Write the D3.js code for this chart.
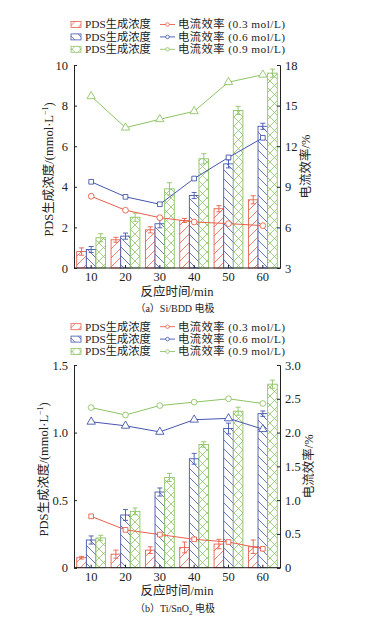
<!DOCTYPE html>
<html lang="zh">
<head>
  <meta charset="UTF-8">
  <title>PDS生成浓度与电流效率</title>
  <style>
    body { margin: 0; background: #fff; }
    svg { display: block; }
    text { font-family: "Liberation Serif", "Times New Roman", "Noto Sans CJK SC", serif; fill: #222; }
  </style>
</head>
<body>
  <svg width="367" height="618"></svg>
  <script src="https://d3js.org/d3.v7.min.js"></script>
  <script>
    // 反应时间 (min)
    const times = [10, 20, 30, 40, 50, 60];
    const concLabels = ["0.3 mol/L", "0.6 mol/L", "0.9 mol/L"];
    const colors = ["#e8604c", "#4556ad", "#8dc465"];

    // (a) Si/BDD: PDS生成浓度 mmol/L
    const bddConc03 = [0.81, 1.39, 1.88, 2.34, 2.92, 3.36];
    const bddConc06 = [0.91, 1.57, 2.18, 3.57, 5.13, 6.98];
    const bddConc09 = [1.49, 2.50, 3.90, 5.38, 7.76, 9.60];
    const bddErr03 = [0.18, 0.12, 0.15, 0.10, 0.15, 0.20];
    const bddErr06 = [0.15, 0.15, 0.20, 0.15, 0.20, 0.15];
    const bddErr09 = [0.20, 0.20, 0.30, 0.25, 0.20, 0.20];
    // (a) 电流效率 %
    const bddEff03 = [8.30, 7.27, 6.72, 6.40, 6.28, 6.13];
    const bddEff06 = [9.37, 8.26, 7.71, 9.61, 11.17, 12.62];
    const bddEff09 = [15.69, 13.37, 13.99, 14.58, 16.73, 17.28];

    // (b) Ti/SnO2
    const snConc03 = [0.074, 0.100, 0.130, 0.150, 0.175, 0.155];
    const snConc06 = [0.205, 0.390, 0.560, 0.806, 1.030, 1.140];
    const snConc09 = [0.220, 0.417, 0.668, 0.912, 1.158, 1.358];
    const snErr03 = [0.010, 0.030, 0.025, 0.040, 0.035, 0.050];
    const snErr06 = [0.030, 0.040, 0.030, 0.040, 0.040, 0.020];
    const snErr09 = [0.020, 0.025, 0.030, 0.020, 0.030, 0.030];
    const snEff03 = [0.76, 0.56, 0.49, 0.42, 0.38, 0.28];
    const snEff06 = [2.16, 2.10, 2.01, 2.19, 2.21, 2.05];
    const snEff09 = [2.37, 2.26, 2.40, 2.45, 2.50, 2.43];

    const leftTicksA = [0, 2, 4, 6, 8, 10];
    const rightTicksA = [3, 6, 9, 12, 15, 18];
    const leftTicksB = [0, 0.5, 1.0, 1.5];
    const rightTicksB = [0, 0.5, 1.0, 1.5, 2.0, 2.5, 3.0];

    const svg = d3.select("svg");
    const defs = svg.append("defs");

    // 斜线 / 反斜线 / 交叉网格 填充
    const hatch = [
      "M-2,2 l4,-4 M0,9 l9,-9 M7,11 l4,-4",
      "M-2,7 l4,4 M0,0 l9,9 M7,-2 l4,4",
      "M-2,2 l4,-4 M0,9 l9,-9 M7,11 l4,-4 M-2,7 l4,4 M0,0 l9,9 M7,-2 l4,4"
    ];
    colors.forEach((c, i) => {
      const p = defs.append("pattern")
        .attr("id", "pat" + i)
        .attr("patternUnits", "userSpaceOnUse")
        .attr("width", 9).attr("height", 9);
      p.append("rect").attr("width", 9).attr("height", 9).attr("fill", "#fff");
      p.append("path").attr("d", hatch[i])
        .attr("stroke", c).attr("stroke-width", 0.8).attr("fill", "none");
    });

    const markerPath = {
      circle: d3.symbol(d3.symbolCircle, 26)(),
      square: d3.symbol(d3.symbolSquare, 22)(),
      triangle: d3.symbol(d3.symbolTriangle, 30)()
    };

    function drawPanel(cfg) {
      const left = 74, right = 280;
      const g = svg.append("g");

      const x = d3.scaleBand().domain(times).range([left, right]).padding(0);
      const xs = d3.scaleBand().domain([0, 1, 2])
        .range([0, x.bandwidth() * 0.84]);
      const off = x.bandwidth() * 0.08;
      const yL = d3.scaleLinear().domain(cfg.leftDomain).range([cfg.bottom, cfg.top]);
      const yR = d3.scaleLinear().domain(cfg.rightDomain).range([cfg.bottom, cfg.top]);

      // 柱
      cfg.conc.forEach((vals, s) => {
        const bars = g.append("g");
        bars.selectAll("rect").data(vals).join("rect")
          .attr("x", (d, i) => x(times[i]) + off + xs(s))
          .attr("y", d => yL(d))
          .attr("width", xs.bandwidth())
          .attr("height", d => yL(0) - yL(d))
          .attr("fill", "url(#pat" + s + ")")
          .attr("stroke", colors[s]).attr("stroke-width", 0.9);

        // 误差线
        const eb = bars.selectAll("g.eb").data(vals).join("g")
          .attr("stroke", colors[s]).attr("stroke-width", 0.9);
        eb.each(function (d, i) {
          const cx = x(times[i]) + off + xs(s) + xs.bandwidth() / 2;
          const e = cfg.err[s][i];
          const el = d3.select(this);
          el.append("line").attr("x1", cx).attr("x2", cx).attr("y1", yL(d - e)).attr("y2", yL(d + e));
          el.append("line").attr("x1", cx - 2.5).attr("x2", cx + 2.5).attr("y1", yL(d + e)).attr("y2", yL(d + e));
          el.append("line").attr("x1", cx - 2.5).attr("x2", cx + 2.5).attr("y1", yL(d - e)).attr("y2", yL(d - e));
        });
      });

      // 坐标轴
      const axL = g.append("g").attr("transform", `translate(${left},0)`)
        .call(d3.axisRight(yL).tickValues(cfg.leftTicks).tickSize(3).tickFormat(cfg.leftFmt));
      axL.selectAll("text").attr("x", -6).attr("text-anchor", "end");
      const axR = g.append("g").attr("transform", `translate(${right},0)`)
        .call(d3.axisLeft(yR).tickValues(cfg.rightTicks).tickSize(3).tickFormat(cfg.rightFmt));
      axR.selectAll("text").attr("x", 5).attr("text-anchor", "start");
      const axB = g.append("g").attr("transform", `translate(0,${cfg.bottom})`)
        .call(d3.axisTop(x).tickSize(3).tickSizeOuter(0));
      axB.selectAll("text").attr("y", 8.5).attr("dy", "0.35em");
      [axL, axR, axB].forEach(a => {
        a.select(".domain").attr("stroke", "#222").attr("stroke-width", 1);
        a.selectAll("line").attr("stroke", "#222");
        a.selectAll("text").attr("font-size", 12.5).attr("fill", "#222")
          .attr("font-family", "'Liberation Serif', serif");
      });
      axB.select(".domain").attr("d", `M${left},0H${right}`);

      // 折线
      const line = d3.line().x((d, i) => x(times[i]) + x.bandwidth() / 2).y(d => yR(d));
      cfg.eff.forEach((vals, s) => {
        g.append("path").datum(vals).attr("d", line)
          .attr("fill", "none").attr("stroke", colors[s]).attr("stroke-width", 1);
        g.append("g").selectAll("path").data(vals).join("path")
          .attr("d", markerPath[cfg.markers[s]])
          .attr("transform", (d, i) => `translate(${x(times[i]) + x.bandwidth() / 2},${yR(d)})`)
          .attr("fill", "#fff").attr("stroke", colors[s]).attr("stroke-width", 0.9);
      });

      // 轴标题
      const lt = g.append("text")
        .attr("transform", `translate(${cfg.leftTitleX},${(cfg.top + cfg.bottom) / 2 + 3}) rotate(-90)`)
        .attr("text-anchor", "middle").attr("font-size", 12.5);
      lt.append("tspan").text("PDS生成浓度/(mmol·L");
      lt.append("tspan").attr("font-size", 8).attr("dy", -5).text("−1");
      lt.append("tspan").attr("dy", 5).text(")");

      g.append("text")
        .attr("transform", `translate(${cfg.rightTitleX},${(cfg.top + cfg.bottom) / 2}) rotate(-90)`)
        .attr("text-anchor", "middle").attr("font-size", 12.5)
        .text("电流效率/%");

      g.append("text").attr("x", 177).attr("y", cfg.bottom + 27.5)
        .attr("text-anchor", "middle").attr("font-size", 12.5)
        .text("反应时间/min");

      const cap = g.append("text").attr("x", 175).attr("y", cfg.bottom + 44)
        .attr("text-anchor", "middle").attr("font-size", 10)
        .attr("font-family", "'Noto Sans CJK SC', sans-serif");
      cfg.caption(cap);

      // 图例
      const lg = g.append("g").attr("transform", `translate(0,${cfg.legendY})`);
      colors.forEach((c, s) => {
        const row = lg.append("g").attr("transform", `translate(0,${s * 12.4})`);
        row.append("rect").attr("x", 71).attr("y", -3).attr("width", 10).attr("height", 6)
          .attr("fill", "url(#pat" + s + ")").attr("stroke", c).attr("stroke-width", 0.8);
        row.append("text").attr("x", 85).attr("y", 0).attr("dy", "0.35em")
          .attr("font-size", 11.3).text("PDS生成浓度");
        row.append("line").attr("x1", 160).attr("x2", 175).attr("y1", 0).attr("y2", 0)
          .attr("stroke", c).attr("stroke-width", 0.9);
        row.append("path").attr("d", d3.symbol(d3.symbolCircle, 10)())
          .attr("transform", "translate(167.5,0)")
          .attr("fill", "#fff").attr("stroke", c).attr("stroke-width", 0.8);
        row.append("text").attr("x", 178).attr("y", 0).attr("dy", "0.35em")
          .attr("font-size", 11.3).attr("textLength", 107).attr("lengthAdjust", "spacing")
          .text("电流效率 (" + concLabels[s] + ")");
      });
    }

    drawPanel({
      top: 65, bottom: 268, legendY: 24.5,
      leftDomain: [0, 10], rightDomain: [3, 18],
      leftTicks: leftTicksA, rightTicks: rightTicksA,
      leftFmt: d3.format("d"), rightFmt: d3.format("d"),
      conc: [bddConc03, bddConc06, bddConc09],
      err: [bddErr03, bddErr06, bddErr09],
      eff: [bddEff03, bddEff06, bddEff09],
      markers: ["circle", "square", "triangle"],
      leftTitleX: 53, rightTitleX: 310,
      caption: t => t.text("（a）Si/BDD 电极")
    });

    drawPanel({
      top: 365, bottom: 567.7, legendY: 326.7,
      leftDomain: [0, 1.5], rightDomain: [0, 3],
      leftTicks: leftTicksB, rightTicks: rightTicksB,
      leftFmt: d => d === 0 ? "0" : d3.format(".1f")(d),
      rightFmt: d => d === 0 ? "0" : d3.format(".1f")(d),
      conc: [snConc03, snConc06, snConc09],
      err: [snErr03, snErr06, snErr09],
      eff: [snEff03, snEff06, snEff09],
      markers: ["square", "triangle", "circle"],
      leftTitleX: 48, rightTitleX: 313,
      caption: t => {
        t.append("tspan").text("（b）Ti/SnO");
        t.append("tspan").attr("font-size", 7).attr("dy", 3).text("2");
        t.append("tspan").attr("dy", -3).text(" 电极");
      }
    });
  </script>
</body>
</html>
